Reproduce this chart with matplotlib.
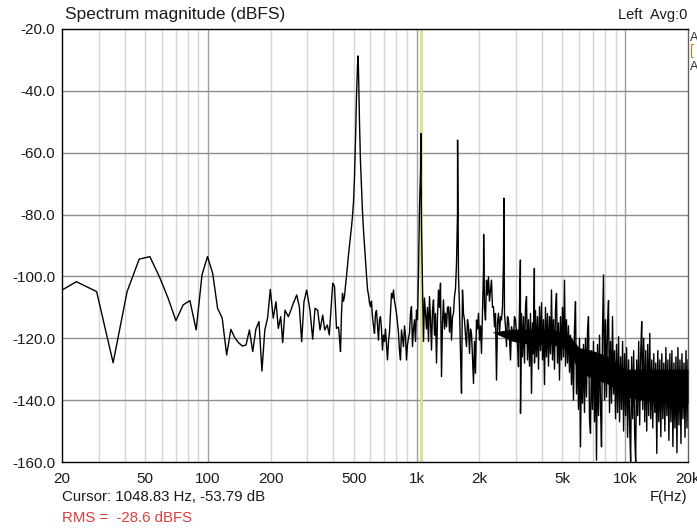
import numpy as np
import matplotlib
matplotlib.use("Agg")
import matplotlib.pyplot as plt

plt.rcParams['font.family'] = ['Liberation Sans', 'DejaVu Sans']

# ---------------- data ----------------
# low-frequency FFT bins (Hz) and levels (dBFS)
low_freq = [17.58, 23.44, 29.30, 35.16, 41.02, 46.88, 52.73, 58.59, 64.45, 70.31,
            76.17, 82.03, 87.89, 93.75, 99.61, 105.47, 111.33, 117.19, 123.05, 128.91,
            134.77, 140.63, 146.48, 152.34, 158.20, 164.06, 169.92, 175.78, 181.64, 187.50,
            193.36, 199.22, 205.8, 212.1, 217.6, 223.4, 228.4, 234.3, 243.0, 249.5,
            256.7, 266.6, 274.4, 281.6, 288.8, 297.6, 308.6, 318.0, 326.2, 336.0,
            344.8, 355.2, 363.2, 373.6, 382.0, 396.6]
low_db = [-106.6, -101.7, -104.9, -127.9, -104.9, -94.4, -93.6, -100.1, -107.0, -114.3,
          -109.2, -107.8, -117.3, -99.5, -93.6, -99.0, -110.3, -113.5, -125.4, -117.1,
          -119.9, -121.5, -122.5, -122.2, -117.3, -124.3, -117.0, -114.6, -130.6, -117.3,
          -113.4, -104.2, -113.5, -108.2, -116.8, -113.0, -121.4, -110.9, -113.0, -111.1,
          -108.7, -106.0, -109.8, -121.1, -108.2, -104.4, -110.9, -120.3, -110.3, -110.9,
          -117.3, -112.5, -117.3, -115.7, -118.9, -102.2]

# dense part of the trace: (start Hz, end Hz) of each run + levels read per screen column
run1_hz = (400.1, 615.1)
run1_db = [-102.5, -103.3, -110.0, -116.8, -116.5, -116.4, -120.0, -124.3, -112.0, -105.5,
           -108.0, -106.5, -103.0, -100.0, -96.5, -93.0, -90.0, -87.0, -84.0, -80.5,
           -76.0, -68.0, -56.0, -42.0, -32.0, -33.0, -50.0, -63.0, -71.0, -79.0,
           -85.0, -90.0, -95.0, -99.5, -104.0, -106.0, -108.5, -109.8, -108.0, -113.0]
run2_hz = (622.0, 1092.0)
run2_db = [-116.0, -118.4, -112.0, -111.0, -116.0, -120.6, -114.0, -113.0, -117.0, -123.8,
           -119.0, -121.0, -117.0, -122.0, -127.0, -121.0, -118.0, -112.0, -105.5, -107.0,
           -104.4, -108.0, -109.8, -112.0, -115.0, -118.4, -124.0, -127.0, -117.3, -120.0,
           -122.7, -116.0, -119.0, -127.0, -122.0, -120.0, -118.4, -112.0, -109.8, -122.7,
           -117.0, -114.0, -121.0, -110.9, -114.0, -99.0, -78.0, -66.0, -84.0, -103.0,
           -121.0, -107.0]
run3_hz = (1104.2, 3115.0)
run3_db = [-112.0, -117.0, -110.0, -121.0, -106.5, -114.0, -123.8, -111.0, -107.6, -119.0,
           -112.0, -128.0, -113.0, -104.4, -110.0, -102.2, -132.4, -115.0, -107.6, -117.0,
           -111.9, -116.3, -110.0, -109.8, -118.0, -110.0, -120.6, -113.0, -111.9, -106.5,
           -104.0, -96.0, -80.0, -100.0, -109.8, -125.0, -137.8, -104.4, -112.0, -114.1,
           -119.0, -122.7, -114.0, -116.3, -124.9, -117.0, -118.4, -126.0, -134.6, -121.0,
           -131.3, -114.1, -117.0, -111.9, -120.6, -116.0, -124.9, -112.0, -98.0, -110.0,
           -114.1, -101.2, -106.0, -100.1, -108.0, -104.4, -101.2, -110.0, -109.8, -116.3,
           -112.0, -133.5, -115.0, -111.9, -118.4, -113.0, -114.1, -110.0, -95.0, -112.0,
           -116.3, -122.7, -113.0, -114.1, -120.0, -127.0, -116.3, -119.0, -120.6, -113.0,
           -114.1, -118.4, -122.0, -129.2, -109.8]
run4_hz = (3150.0, 5408.0)
run4_db = [-144.3, -112.0, -126.0, -113.0, -128.0, -110.0, -106.5, -127.0, -114.0, -129.0,
           -112.0, -137.8, -115.0, -125.0, -128.0, -111.0, -126.0, -113.0, -130.0, -109.8,
           -124.0, -108.5, -127.0, -114.0, -135.0, -110.0, -126.0, -112.0, -129.0, -113.0,
           -125.0, -104.4, -127.0, -114.0, -130.0, -111.0, -105.5, -128.0, -115.0, -133.5,
           -113.0, -127.0, -110.0, -126.0, -101.2, -129.0, -114.0, -128.0, -116.0, -131.0]
run5_hz = (5468.0, 8412.0)
run5_db = [-119.0, -135.0, -121.0, -140.0, -117.0, -108.2, -138.0, -123.0, -143.0, -120.0,
           -155.1, -125.0, -141.0, -122.0, -144.0, -120.0, -139.0, -118.0, -113.0, -146.0,
           -150.7, -124.0, -143.0, -121.0, -147.0, -125.0, -159.4, -122.0, -145.0, -119.0,
           -142.0, -155.1, -118.0, -99.5, -140.0, -114.0, -139.0, -116.0, -107.8, -144.0]
run6_hz = (8504.0, 20000.0)
run6_db = [-121.0, -141.0, -113.0, -138.0, -124.0, -146.0, -122.0, -144.0, -119.5, -147.0,
           -126.0, -143.0, -121.0, -150.0, -125.0, -145.0, -123.0, -152.0, -127.0, -148.0,
           -159.9, -126.0, -146.0, -124.0, -151.0, -159.9, -127.0, -145.0, -121.0, -148.0,
           -125.0, -114.6, -143.0, -120.0, -147.0, -124.0, -150.0, -122.0, -145.0, -118.4,
           -146.0, -127.0, -149.0, -125.0, -144.0, -128.0, -157.2, -124.0, -147.0, -127.0,
           -151.8, -125.0, -146.0, -128.0, -150.0, -123.0, -145.0, -127.0, -153.0, -125.0,
           -147.0, -124.0, -155.0, -128.0, -149.0, -126.0, -157.0, -123.0, -148.0, -127.0,
           -154.0, -125.0, -146.0, -128.0, -152.0, -124.0, -149.0, -127.0]

# solid core of the noise floor where the trace is too dense to resolve
core_freq = [2300, 2900, 3500, 4500, 5400, 6000, 7000, 8400, 10000, 12000, 15000, 20000]
core_top = [-118, -117, -117, -117, -119, -123, -124, -126, -130, -130, -130, -130]
core_bot = [-118, -121, -122, -122, -124, -131, -133, -135, -139, -140, -141, -141]

# fundamental and harmonic peaks
harm_freq = [524.4, 1048.83, 1573.2, 2097.7, 2622.1, 3146.5, 3670.9]
harm_db = [-28.7, -53.79, -55.9, -86.4, -74.7, -94.7, -97.4]

cursor_hz = 1048.83
cursor_text = "Cursor: 1048.83 Hz, -53.79 dB"
rms_text = "RMS =  -28.6 dBFS"

x_ticks = [20, 50, 100, 200, 500, 1000, 2000, 5000, 10000, 20000]
x_labels = ['20', '50', '100', '200', '500', '1k', '2k', '5k', '10k', '20k']
y_ticks = [-160, -140, -120, -100, -80, -60, -40, -20]
minor_grid = [30, 40, 50, 60, 70, 80, 90, 200, 300, 400, 500, 600, 700, 800, 900,
              2000, 3000, 4000, 5000, 6000, 7000, 8000, 9000]
decade_grid = [100, 1000, 10000]

# ---------------- assemble trace ----------------
f_parts = [np.array(low_freq)]
d_parts = [np.array(low_db)]
for rng, vals in [(run1_hz, run1_db), (run2_hz, run2_db), (run3_hz, run3_db),
                  (run4_hz, run4_db), (run5_hz, run5_db), (run6_hz, run6_db)]:
    f_parts.append(np.geomspace(rng[0], rng[1], len(vals)))
    d_parts.append(np.array(vals))
f_parts.append(np.array(harm_freq))
d_parts.append(np.array(harm_db))
freq = np.concatenate(f_parts)
db = np.concatenate(d_parts)
order = np.argsort(freq)
freq = freq[order]
db = db[order]

# ---------------- figure ----------------
W, H = 697, 528
fig = plt.figure(figsize=(W / 100, H / 100), dpi=100)
fig.patch.set_facecolor('white')
ax = fig.add_axes([62 / W, 1 - 462 / H, 626 / W, 433 / H])
ax.set_xscale('log')
ax.set_xlim(20, 20000)
ax.set_ylim(-160, -20)

for f in minor_grid:
    ax.axvline(f, color='#d6d6d6', lw=1.0, zorder=1)
for f in decade_grid:
    ax.axvline(f, color='#a0a0a0', lw=1.0, zorder=1)
for y in y_ticks[1:-1]:
    ax.axhline(y, color='#8e8e8e', lw=1.0, zorder=1)

ax.axvline(cursor_hz, color='#dede8a', lw=2.0, zorder=2)
ax.fill_between(core_freq, core_bot, core_top, color='black', lw=0, zorder=3)
ax.plot(freq, db, color='black', lw=1.0, zorder=3, antialiased=True)

ax.set_xticks(x_ticks)
ax.set_xticklabels(x_labels)
ax.xaxis.set_minor_locator(matplotlib.ticker.NullLocator())
ax.set_yticks(y_ticks)
ax.set_yticklabels([f"{v:.1f}" for v in y_ticks])
ax.tick_params(axis='both', length=0, labelsize=11, colors='#1a1a1a')
ax.tick_params(axis='x', pad=7)
ax.tick_params(axis='y', pad=5)
for s in ax.spines.values():
    s.set_color('black')
    s.set_linewidth(1.0)
ax.spines['right'].set_color('#606060')

fig.text(65 / W, 1 - 15 / H, "Spectrum magnitude (dBFS)", fontsize=12.5,
         color='#1a1a1a', va='center', ha='left')
fig.text(687 / W, 1 - 15 / H, "Left  Avg:0", fontsize=10.5,
         color='#1a1a1a', va='center', ha='right')
fig.text(62 / W, 1 - 497 / H, cursor_text, fontsize=10.8,
         color='#1a1a1a', va='center', ha='left')
fig.text(687 / W, 1 - 497 / H, "F(Hz)", fontsize=10.8,
         color='#1a1a1a', va='center', ha='right')
fig.text(62 / W, 1 - 518 / H, rms_text, fontsize=10.8,
         color='#e03c3c', va='center', ha='left')
# legend fragments cut off by the right edge of the window
fig.text(690 / W, 1 - 38 / H, "A", fontsize=9, color='#303030', va='center', ha='left')
fig.text(690 / W, 1 - 51 / H, "[", fontsize=10, color='#c87814', va='center', ha='left')
fig.text(690 / W, 1 - 67 / H, "A", fontsize=9, color='#303030', va='center', ha='left')

fig.savefig('out.png', dpi=100)
